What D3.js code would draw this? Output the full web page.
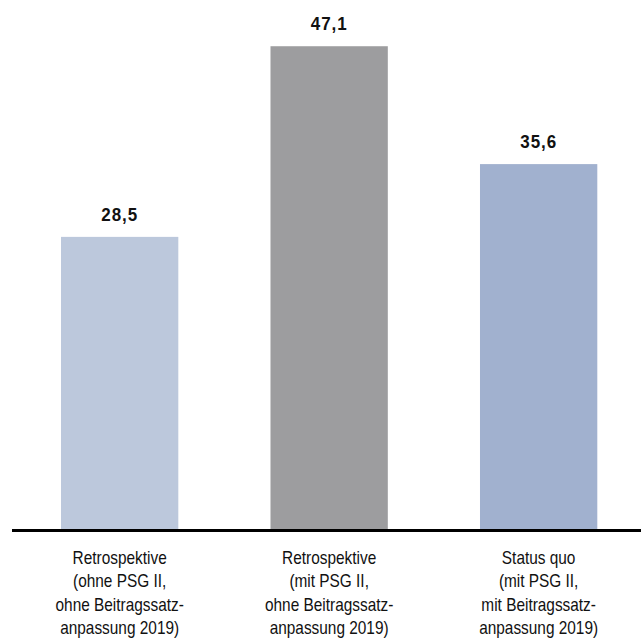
<!DOCTYPE html>
<html>
<head>
<meta charset="utf-8">
<script src="https://cdn.jsdelivr.net/npm/d3@7"></script>
<style>
  html, body { margin: 0; padding: 0; background: #fff; }
  svg { display: block; }
</style>
</head>
<body>
<svg id="chart" width="641" height="638"></svg>
<script>
const categories = ["s1", "s2", "s3"];
const values = [28.5, 47.1, 35.6];
const valueLabels = ["28,5", "47,1", "35,6"];
const categoryLabels = [
  ["Retrospektive", "(ohne PSG II,", "ohne Beitragssatz-", "anpassung 2019)"],
  ["Retrospektive", "(mit PSG II,", "ohne Beitragssatz-", "anpassung 2019)"],
  ["Status quo", "(mit PSG II,", "mit Beitragssatz-", "anpassung 2019)"]
];
const colors = ["#bcc8dc", "#9d9d9f", "#a1b1cf"];

const svg = d3.select("#chart");
const x = d3.scaleBand().domain(categories).range([61, 597.3]).paddingInner(0.44).paddingOuter(0);
const y = d3.scaleLinear().domain([0, 50]).range([529, 16.5]);

svg.selectAll("rect.bar").data(values).enter().append("rect")
  .attr("class", "bar")
  .attr("x", (d, i) => x(categories[i]))
  .attr("width", x.bandwidth())
  .attr("y", d => y(d))
  .attr("height", d => y(0) - y(d))
  .attr("fill", (d, i) => colors[i]);

svg.selectAll("text.val").data(values).enter().append("text")
  .attr("class", "val")
  .attr("transform", (d, i) => `translate(${x(categories[i]) + x.bandwidth() / 2},${y(d) - 16}) scale(0.92,1)`)
  .attr("text-anchor", "middle")
  .attr("font-family", "'Liberation Sans', Arial, sans-serif")
  .attr("font-weight", "bold")
  .attr("font-size", 18.5)
  .attr("letter-spacing", "1px")
  .attr("fill", "#111")
  .text((d, i) => valueLabels[i]);

svg.append("line")
  .attr("x1", 12).attr("x2", 641)
  .attr("y1", 530.5).attr("y2", 530.5)
  .attr("stroke", "#000").attr("stroke-width", 3);

const labelG = svg.selectAll("text.cat").data(categoryLabels).enter().append("text")
  .attr("class", "cat")
  .attr("transform", (d, i) => `translate(${x(categories[i]) + x.bandwidth() / 2},0) scale(0.88,1)`)
  .attr("text-anchor", "middle")
  .attr("font-family", "'Liberation Sans', Arial, sans-serif")
  .attr("font-size", 17.5)
  .attr("fill", "#111");
labelG.each(function(lines) {
  d3.select(this).selectAll("tspan").data(lines).enter().append("tspan")
    .attr("x", 0)
    .attr("y", (l, j) => 564 + j * 23.5)
    .text(l => l);
});
</script>
</body>
</html>
